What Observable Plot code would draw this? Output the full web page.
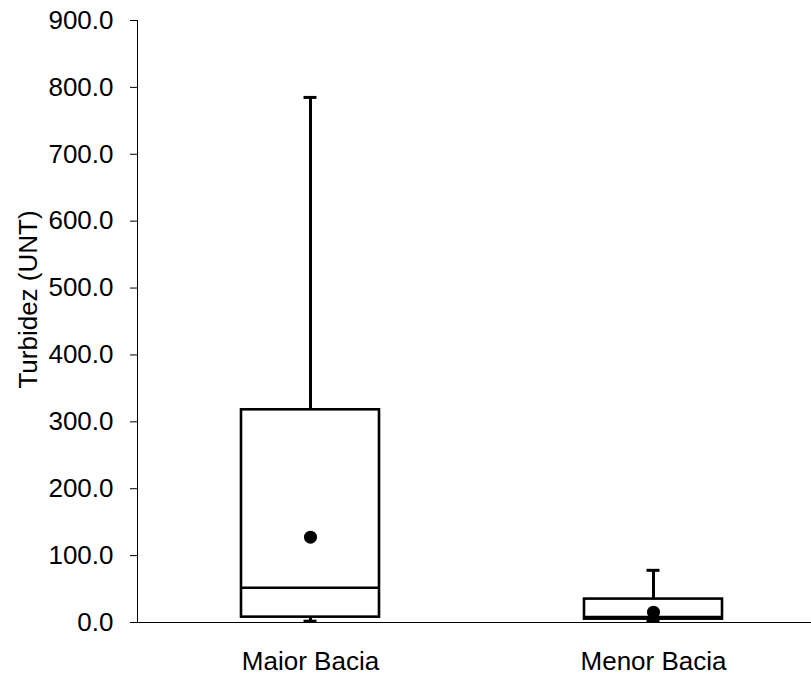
<!DOCTYPE html>
<html>
<head>
<meta charset="utf-8">
<script src="https://cdn.jsdelivr.net/npm/d3@7"></script>
<script src="https://cdn.jsdelivr.net/npm/@observablehq/plot@0.6"></script>
<style>
  body { margin: 0; background: #fff; }
  svg { font-family: "Liberation Sans", Arial, sans-serif; }
</style>
</head>
<body>
<div id="chart"></div>
<script>
const categories = ["Maior Bacia", "Menor Bacia"];
const minVals    = [2, 2];
const q1Vals     = [8, 5];
const medianVals = [52, 8];
const q3Vals     = [318, 35];
const maxVals    = [785, 78];
const meanVals   = [127.5, 15.5];
const yTicks     = [0, 100, 200, 300, 400, 500, 600, 700, 800, 900];
const yLabel     = "Turbidez (UNT)";

const rows = categories.map((c, i) => ({
  cat: c, min: minVals[i], q1: q1Vals[i], med: medianVals[i],
  q3: q3Vals[i], max: maxVals[i], mean: meanVals[i]
}));

const fs = 26;
const chart = Plot.plot({
  width: 811,
  height: 675,
  marginLeft: 137,
  marginRight: 0,
  marginTop: 20,
  marginBottom: 53,
  style: { fontFamily: "'Liberation Sans', Arial, sans-serif", fontSize: fs + "px", background: "#fff", color: "#000", overflow: "visible" },
  x: { type: "band", domain: categories, range: [240.5, 721.5], paddingInner: 0.5977, paddingOuter: 0, align: 0.5 },
  y: { domain: [0, 900] },
  marks: [
    Plot.axisY({ ticks: yTicks, tickFormat: d => d.toFixed(1), tickSize: 7, tickPadding: 17, label: null, fontSize: fs }),
    Plot.axisX({ tickSize: 0, tickPadding: 29, label: null, fontSize: fs }),
    Plot.frame({ anchor: "left", strokeWidth: 1 }),
    Plot.ruleY([0], { insetLeft: -7, strokeWidth: 1 }),
    Plot.ruleX(rows, { x: "cat", y1: "q3", y2: "max", strokeWidth: 3 }),
    Plot.ruleX(rows, { x: "cat", y1: "min", y2: "q1", strokeWidth: 3 }),
    Plot.tickY(rows, { x: "cat", y: "max", strokeWidth: 3, insetLeft: 62.5, insetRight: 62.5 }),
    Plot.tickY(rows, { x: "cat", y: "min", strokeWidth: 3, insetLeft: 62.5, insetRight: 62.5 }),
    Plot.barY(rows, { x: "cat", y1: "q1", y2: "q3", fill: "#fff", stroke: "#000", strokeWidth: 2.6 }),
    Plot.tickY(rows, { x: "cat", y: "med", strokeWidth: 2.6 }),
    Plot.dot(rows, { x: "cat", y: "mean", r: 6.5, fill: "#000", stroke: "none" }),
    Plot.text([yLabel], { frameAnchor: "left", text: d => d, rotate: -90, dx: -109, dy: -22, fontSize: fs, fill: "#000", lineAnchor: "middle", textAnchor: "middle" })
  ]
});
document.getElementById("chart").appendChild(chart);
</script>
</body>
</html>
